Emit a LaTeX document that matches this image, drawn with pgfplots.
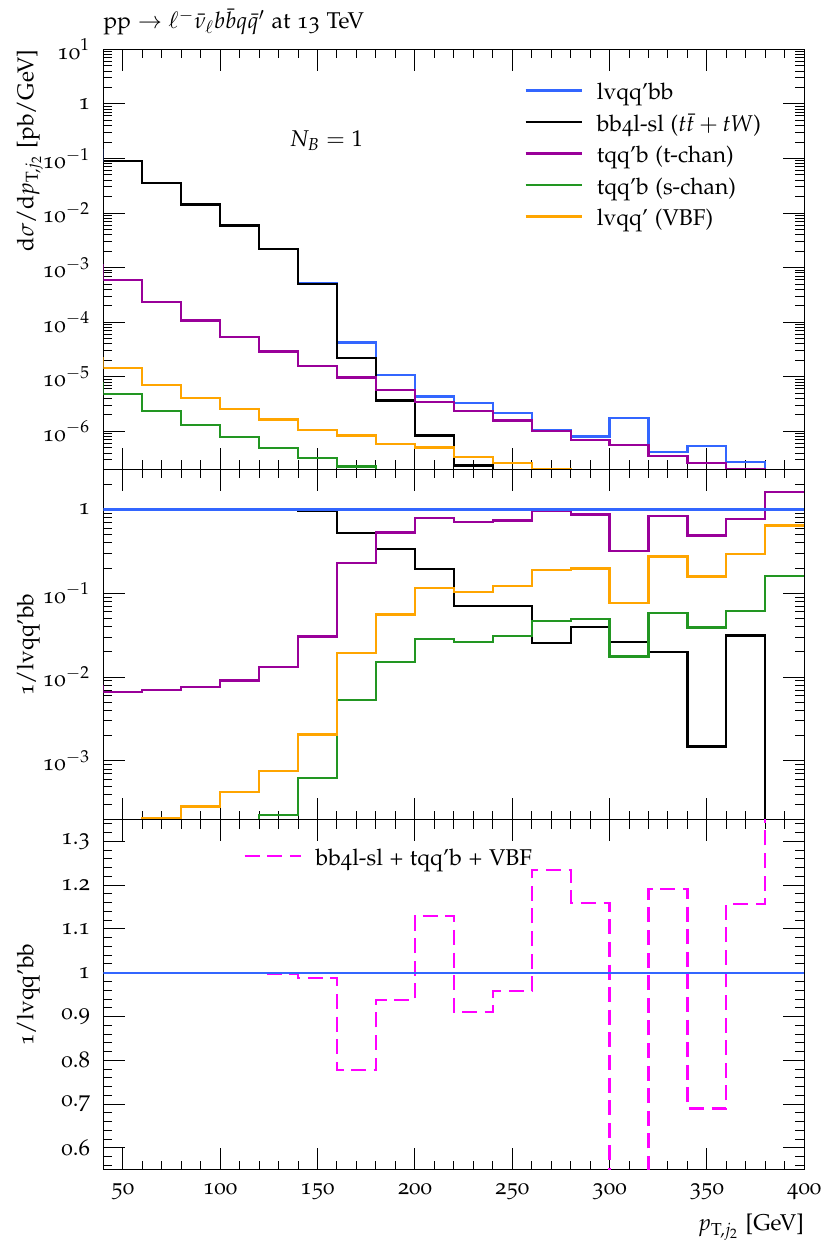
\documentclass[border=0pt]{standalone}
\usepackage[T1]{fontenc}
\usepackage[osf]{mathpazo}
\usepackage{pgfplots}
\pgfplotsset{compat=1.18}
\definecolor{cblue}{RGB}{51,102,255}
\definecolor{cpurple}{RGB}{153,0,153}
\definecolor{cgreen}{RGB}{34,150,34}
\definecolor{corange}{RGB}{255,165,0}
\definecolor{cmag}{RGB}{255,0,255}
\pgfplotsset{
  myax/.style={
    scale only axis, width=350.35pt, xmin=40, xmax=400,
    tick align=inside, xtick={50,100,...,400}, minor x tick num=4,
    major tick length=10.8pt, minor tick length=4.5pt,
    axis line style={line width=0.6pt},
    every tick/.style={black, line width=0.5pt},
    yticklabel style={xshift=-2.7pt},
    xticklabel style={yshift=-2.7pt},
    legend cell align=left,
    legend image code/.code={\draw[#1] plot coordinates {(0pt,1.9pt) (28pt,1.9pt)};},
    legend style={draw=none, fill=none, inner sep=0pt, row sep=4.25pt, column sep=7pt,
      nodes={inner sep=0pt, text height=8.5pt, text depth=3pt}},
  },
  hist/.style={const plot, line width=1.1pt},
}
\begin{document}
\fontsize{11.4}{13.7}\selectfont
\begin{tikzpicture}
% ---------------- top panel ----------------
\begin{axis}[myax, name=top, height=210pt, ymode=log, ymin=2e-7, ymax=10,
  ytick={1e-6,1e-5,1e-4,1e-3,1e-2,1e-1,1,10},
  yticklabels={10$^{-6}$,10$^{-5}$,10$^{-4}$,10$^{-3}$,10$^{-2}$,10$^{-1}$,1,10$^{1}$},
  minor ytick={2e-7,3e-7,4e-7,5e-7,6e-7,7e-7,8e-7,9e-7,
    2e-6,3e-6,4e-6,5e-6,6e-6,7e-6,8e-6,9e-6,
    2e-5,3e-5,4e-5,5e-5,6e-5,7e-5,8e-5,9e-5,
    2e-4,3e-4,4e-4,5e-4,6e-4,7e-4,8e-4,9e-4,
    2e-3,3e-3,4e-3,5e-3,6e-3,7e-3,8e-3,9e-3,
    2e-2,3e-2,4e-2,5e-2,6e-2,7e-2,8e-2,9e-2,
    0.2,0.3,0.4,0.5,0.6,0.7,0.8,0.9,
    2,3,4,5,6,7,8,9},
  xticklabels={},
  title={pp $\rightarrow \ell^-\bar{\nu}_\ell b\bar{b}q\bar{q}'$ at 13 TeV},
  title style={at={(axis description cs:0,1)}, anchor=base west, yshift=4.5pt, inner sep=0pt},
  ylabel={d$\sigma$/d$p_{\mathrm{T},j_2}$ [pb/GeV]},
  ylabel style={at={(axis description cs:-0.0999,1)}, anchor=base east, inner sep=0pt},
  legend style={at={(axis description cs:0.6005,0.9214)}, anchor=north west},
]
\addplot[hist, cblue] coordinates {(20,0.143) (40,0.090) (60,0.035) (80,0.0143) (100,0.0059) (120,0.0022) (140,5.2e-4) (160,4.23e-5) (180,1.08e-5) (200,4.35e-6) (220,3.28e-6) (240,2.15e-6) (260,1.06e-6) (280,8.0e-7) (300,1.77e-6) (320,4.2e-7) (340,5.4e-7) (360,2.7e-7) (380,1.0e-7) (400,1.0e-7)};
\addlegendentry{lvqq'bb}
\addplot[hist, black] coordinates {(20,0.143) (40,0.090) (60,0.035) (80,0.0143) (100,0.0059) (120,0.0022) (140,5.0e-4) (160,2.19e-5) (180,3.66e-6) (200,8.4e-7) (220,2.37e-7) (240,1.5e-7) (260,2.7e-8) (280,3.2e-8) (300,4.7e-8) (320,8.3e-9) (340,8e-10) (360,8.5e-9) (380,1e-10) (400,1e-10)};
\addlegendentry{bb4l-sl ($t\bar{t}+tW$)}
\addplot[hist, cpurple] coordinates {(20,1.12e-3) (40,5.96e-4) (60,2.38e-4) (80,1.07e-4) (100,5.3e-5) (120,2.9e-5) (140,1.58e-5) (160,9.7e-6) (180,5.75e-6) (200,3.43e-6) (220,2.34e-6) (240,1.58e-6) (260,1.02e-6) (280,7.0e-7) (300,5.6e-7) (320,3.5e-7) (340,2.65e-7) (360,2.07e-7) (380,1.6e-7) (400,1.6e-7)};
\addlegendentry{tqq'b (t-chan)}
\addplot[hist, cgreen] coordinates {(20,7.6e-6) (40,4.86e-6) (60,2.34e-6) (80,1.30e-6) (100,7.8e-7) (120,4.99e-7) (140,3.23e-7) (160,2.27e-7) (180,1.64e-7) (200,1.24e-7) (220,8.6e-8) (240,6.7e-8) (260,5.0e-8) (280,4.0e-8) (300,3.1e-8) (320,2.4e-8) (340,2.1e-8) (360,1.7e-8) (380,1.6e-8) (400,1.6e-8)};
\addlegendentry{tqq'b (s-chan)}
\addplot[hist, corange] coordinates {(20,2.2e-5) (40,1.44e-5) (60,7.1e-6) (80,4.06e-6) (100,2.55e-6) (120,1.64e-6) (140,1.06e-6) (160,8.4e-7) (180,5.9e-7) (200,5.05e-7) (220,3.37e-7) (240,2.6e-7) (260,2.0e-7) (280,1.58e-7) (300,1.37e-7) (320,1.15e-7) (340,8.6e-8) (360,7.9e-8) (380,6.5e-8) (400,6.5e-8)};
\addlegendentry{lvqq' (VBF)}
\node[anchor=base] at (rel axis cs:0.318,0.768) {$N_B = 1$};
\end{axis}
% ---------------- middle panel ----------------
\begin{axis}[myax, name=mid, at={(top.south west)}, anchor=north west, height=175pt,
  ymode=log, ymin=2e-4, ymax=3,
  ytick={1e-3,1e-2,1e-1,1},
  yticklabels={10$^{-3}$,10$^{-2}$,10$^{-1}$,1},
  minor ytick={2e-4,3e-4,4e-4,5e-4,6e-4,7e-4,8e-4,9e-4,
    2e-3,3e-3,4e-3,5e-3,6e-3,7e-3,8e-3,9e-3,
    2e-2,3e-2,4e-2,5e-2,6e-2,7e-2,8e-2,9e-2,
    0.2,0.3,0.4,0.5,0.6,0.7,0.8,0.9,2,3},
  xticklabels={},
  ylabel={1/lvqq'bb},
  ylabel style={at={(axis description cs:-0.0999,0.5)}, anchor=base, inner sep=0pt},
]
\addplot[hist, black] coordinates {(20,1) (40,1) (60,1) (80,1) (100,1) (120,0.99) (140,0.955) (160,0.527) (180,0.34) (200,0.193) (220,0.0712) (240,0.0712) (260,0.0256) (280,0.040) (300,0.0265) (320,0.0198) (340,0.00149) (360,0.0313) (380,1e-10) (400,1e-10)};
\addplot[hist, cpurple] coordinates {(20,0.0078) (40,0.00668) (60,0.0070) (80,0.0076) (100,0.0091) (120,0.0131) (140,0.0305) (160,0.2275) (180,0.532) (200,0.788) (220,0.713) (240,0.74) (260,0.96) (280,0.87) (300,0.316) (320,0.83) (340,0.49) (360,0.767) (380,1.62) (400,1.62)};
\addplot[hist, cgreen] coordinates {(20,5e-5) (40,5.4e-5) (60,6.7e-5) (80,9.1e-5) (100,1.3e-4) (120,2.25e-4) (140,6.28e-4) (160,5.37e-3) (180,0.0152) (200,0.0286) (220,0.0263) (240,0.031) (260,0.0472) (280,0.0494) (300,0.0176) (320,0.0582) (340,0.039) (360,0.0616) (380,0.1607) (400,0.1607)};
\addplot[hist, corange] coordinates {(20,1.5e-4) (40,1.6e-4) (60,2.1e-4) (80,2.86e-4) (100,4.27e-4) (120,7.6e-4) (140,2.07e-3) (160,0.0196) (180,0.0557) (200,0.1166) (220,0.1028) (240,0.121) (260,0.188) (280,0.198) (300,0.0774) (320,0.275) (340,0.159) (360,0.294) (380,0.645) (400,0.645)};
\addplot[hist, cblue] coordinates {(40,1) (400,1)};
\end{axis}
% ---------------- bottom panel ----------------
\begin{axis}[myax, name=bot, at={(mid.south west)}, anchor=north west, height=175pt,
  ymin=0.55, ymax=1.35,
  ytick={0.6,0.7,0.8,0.9,1,1.1,1.2,1.3},
  yticklabels={0.6,0.7,0.8,0.9,1,1.1,1.2,1.3},
  minor ytick={0.56,0.58,...,1.34},
  xticklabels={50,100,150,200,250,300,350,400},
  ylabel={1/lvqq'bb},
  ylabel style={at={(axis description cs:-0.0999,0.5)}, anchor=base, inner sep=0pt},
  xlabel={$p_{\mathrm{T},j_2}$ [GeV]},
  xlabel style={at={(axis description cs:1,-0.1743)}, anchor=base east, inner sep=0pt},
  legend style={at={(axis description cs:0.1994,0.9191)}, anchor=north west},
]
\addplot[hist, cmag, dash pattern=on 7.5pt off 3.8pt] coordinates {(20,1) (40,1) (60,1) (80,1) (100,0.999) (120,0.997) (140,0.988) (160,0.777) (180,0.937) (200,1.130) (220,0.910) (240,0.958) (260,1.235) (280,1.160) (300,0.44) (320,1.192) (340,0.690) (360,1.157) (380,2.4) (400,2.4)};
\addlegendentry{bb4l-sl + tqq'b + VBF}
\addplot[hist, cblue, forget plot] coordinates {(40,1) (400,1)};
\end{axis}
\path ([xshift=-51.65pt,yshift=24.65pt]top.north west) rectangle ([xshift=13pt,yshift=-35.15pt]bot.south east);
\end{tikzpicture}
\end{document}
